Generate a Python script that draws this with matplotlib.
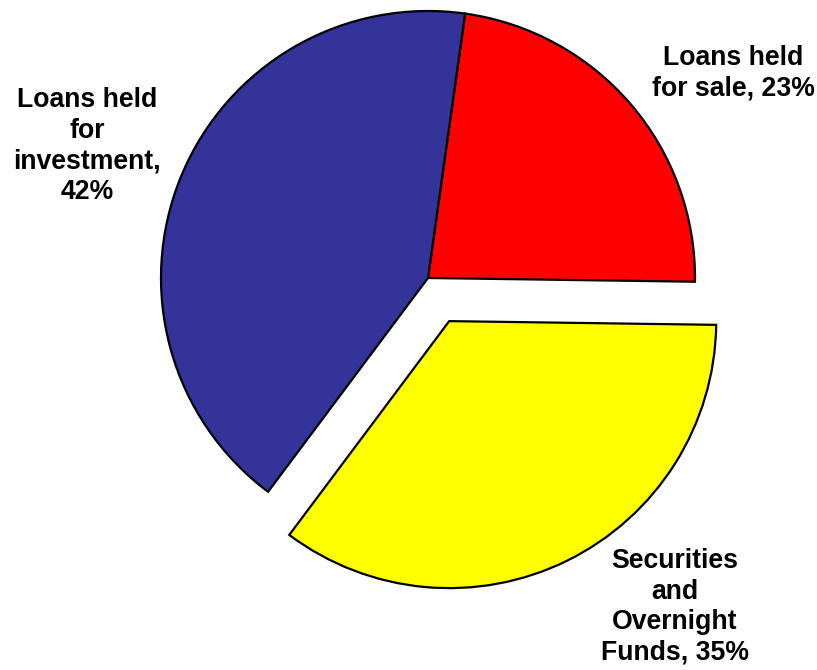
import matplotlib.pyplot as plt

# portfolio composition
labels = ['Loans held\nfor sale, 23%', 'Securities\nand\nOvernight\nFunds, 35%',
          'Loans held\nfor\ninvestment,\n42%']
shares = [23, 35, 42]
colors = ['#FF0000', '#FFFF00', '#333399']
explode = [0, 0.18, 0]

plt.rcParams['font.family'] = ['Liberation Sans', 'DejaVu Sans']

fig = plt.figure(figsize=(8.17, 6.70), dpi=100)
ax = fig.add_axes([0, 0, 1, 1])

ax.pie(shares, colors=colors, explode=explode, startangle=82, counterclock=False,
       radius=1.0, wedgeprops=dict(edgecolor='black', linewidth=1.6))

# pie center sits at (428, 278) px with radius 267 px
ax.set_xlim(-428 / 267, (817 - 428) / 267)
ax.set_ylim((278 - 670) / 267, 278 / 267)
ax.axis('off')

pos = [(733, 73), (675, 607), (87, 146)]
for lab, (px, py) in zip(labels, pos):
    ax.text((px - 428) / 267, (278 - py) / 267, lab, ha='center', va='center',
            fontsize=19.2, fontweight='bold', linespacing=1.23)

fig.savefig('out.png', dpi=100)
